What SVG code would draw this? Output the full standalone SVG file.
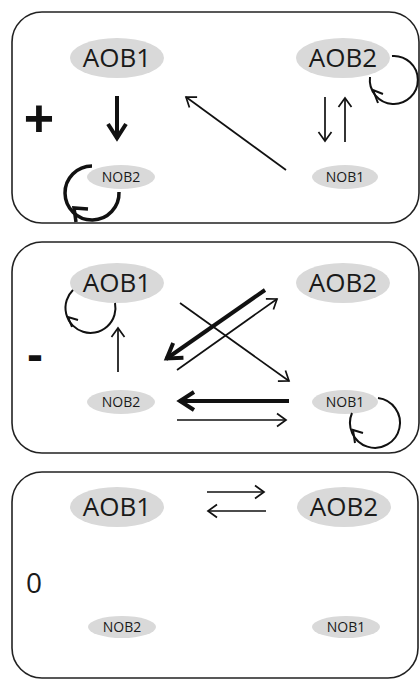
<svg xmlns="http://www.w3.org/2000/svg" width="420" height="680" viewBox="0 0 420 680">
<style>
.panel{fill:#fff;stroke:#222;stroke-width:1.6}
.ell{fill:#d9d9d9}
.big{font-family:"Open Sans","Liberation Sans",sans-serif;font-size:26px;fill:#1a1a1a;text-anchor:middle}
.small{font-family:"Open Sans","Liberation Sans",sans-serif;font-size:14px;fill:#1a1a1a;text-anchor:middle}
.sign{font-family:"Liberation Sans","Open Sans",sans-serif;fill:#111;text-anchor:middle}
.thin{fill:none;stroke:#111;stroke-width:1.7}
.thick{fill:none;stroke:#111;stroke-width:4}
.loop{fill:none;stroke:#111;stroke-width:2}
.loopb{fill:none;stroke:#111;stroke-width:3.5}
</style>
<defs>
<marker id="ah" markerUnits="userSpaceOnUse" viewBox="-12 -10 14 20" refX="0" refY="0" markerWidth="14" markerHeight="20" orient="auto" overflow="visible">
<path d="M-9,-6.5 L0,0 L-9,6.5" fill="none" stroke="#111" stroke-width="1.7"/>
</marker>
<marker id="ahb" markerUnits="userSpaceOnUse" viewBox="-16 -12 18 24" refX="0" refY="0" markerWidth="18" markerHeight="24" orient="auto" overflow="visible">
<path d="M-15,-9 L-1,0 L-15,9" fill="none" stroke="#111" stroke-width="4"/>
</marker>
</defs>

<rect class="panel" x="12" y="12" width="407" height="211" rx="30"/>
<rect class="panel" x="12" y="242" width="407" height="211" rx="30"/>
<rect class="panel" x="12" y="472" width="406" height="206" rx="30"/>

<text class="sign" x="39" y="136" font-size="52" font-weight="bold">+</text>
<text class="sign" x="35" y="371" font-size="48" font-weight="bold">-</text>
<text class="big" x="34" y="593" style="font-size:28px">0</text>

<g id="p1-AOB1"><ellipse class="ell" cx="117" cy="58" rx="47" ry="20"/><text class="big" x="117" y="67">AOB1</text></g>
<g id="p1-AOB2"><ellipse class="ell" cx="343" cy="58" rx="47" ry="20"/><text class="big" x="343" y="67">AOB2</text></g>
<g id="p1-NOB2"><ellipse class="ell" cx="121" cy="177" rx="34" ry="12"/><text class="small" x="121" y="182">NOB2</text></g>
<g id="p1-NOB1"><ellipse class="ell" cx="345" cy="177" rx="33" ry="12"/><text class="small" x="345" y="182">NOB1</text></g>

<g id="p2-AOB1"><ellipse class="ell" cx="117" cy="283" rx="47" ry="20"/><text class="big" x="117" y="292">AOB1</text></g>
<g id="p2-AOB2"><ellipse class="ell" cx="343" cy="283" rx="47" ry="20"/><text class="big" x="343" y="292">AOB2</text></g>
<g id="p2-NOB2"><ellipse class="ell" cx="121" cy="402" rx="34" ry="12"/><text class="small" x="121" y="407">NOB2</text></g>
<g id="p2-NOB1"><ellipse class="ell" cx="345" cy="402" rx="33" ry="12"/><text class="small" x="345" y="407">NOB1</text></g>

<g id="p3-AOB1"><ellipse class="ell" cx="117" cy="507" rx="47" ry="20"/><text class="big" x="117" y="516">AOB1</text></g>
<g id="p3-AOB2"><ellipse class="ell" cx="344" cy="507" rx="47" ry="20"/><text class="big" x="344" y="516">AOB2</text></g>
<g id="p3-NOB2"><ellipse class="ell" cx="122" cy="627" rx="34" ry="11"/><text class="small" x="122" y="632">NOB2</text></g>
<g id="p3-NOB1"><ellipse class="ell" cx="346" cy="627" rx="34" ry="11"/><text class="small" x="346" y="632">NOB1</text></g>

<g id="connectors">
<!-- panel 1 -->
<line class="thick" x1="117" y1="96" x2="117" y2="139" marker-end="url(#ahb)"/>
<line class="thin" x1="286" y1="170" x2="186" y2="97" marker-end="url(#ah)"/>
<line class="thin" x1="325" y1="97" x2="325" y2="141" marker-end="url(#ah)"/>
<line class="thin" x1="345" y1="142" x2="345" y2="98" marker-end="url(#ah)"/>
<path class="loop" d="M392,56 A24,24 0 1 1 370,77"/>
<path class="loop" d="M383,94 L373,90 L378,103"/>
<path class="loopb" d="M119,192 A27,27 0 1 1 92,166"/>
<path class="loopb" d="M88,209 L74,208 L76,222"/>
<!-- panel 2 -->
<path class="loop" d="M115,303 A25,25 0 1 1 73,290"/>
<path class="loop" d="M78,320 L68,317 L72,327"/>
<line class="thin" x1="118" y1="372" x2="118" y2="328" marker-end="url(#ah)"/>
<line class="thick" x1="265" y1="290" x2="166" y2="359" marker-end="url(#ahb)"/>
<line class="thin" x1="177" y1="370" x2="277" y2="299" marker-end="url(#ah)"/>
<line class="thin" x1="180" y1="303" x2="289" y2="381" marker-end="url(#ah)"/>
<line class="thick" x1="289" y1="401" x2="179" y2="401" marker-end="url(#ahb)"/>
<line class="thin" x1="177" y1="420" x2="286" y2="420" marker-end="url(#ah)"/>
<path class="loop" d="M378,398 A25,25 0 1 1 352,413"/>
<path class="loop" d="M363,433 L353,430 L355,443"/>
<!-- panel 3 -->
<line class="thin" x1="207" y1="492" x2="264" y2="492" marker-end="url(#ah)"/>
<line class="thin" x1="266" y1="511" x2="208" y2="511" marker-end="url(#ah)"/>
</g>
</svg>
